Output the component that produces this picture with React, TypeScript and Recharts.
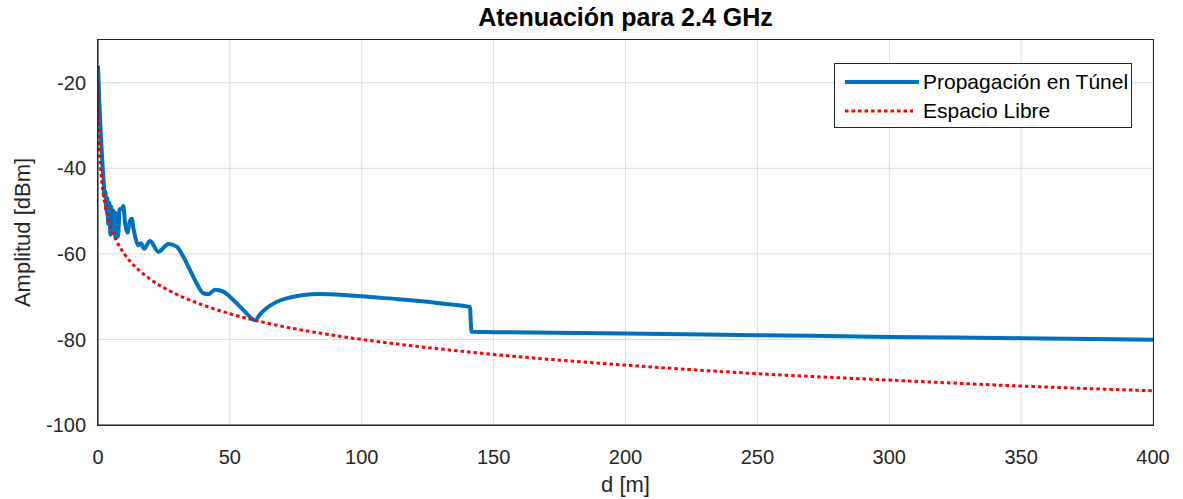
import { CartesianGrid, Line, LineChart, XAxis, YAxis } from "recharts";

// distances in m, amplitudes in dBm
const tunnelDist = [
  0, 0.3, 0.6, 1.0, 1.4, 1.8, 2.2, 2.5, 2.8, 3.2, 3.5, 3.9, 4.3, 4.7, 5.1, 5.6,
  6.0, 6.5, 7.0, 7.6, 8.2, 9.0, 9.6, 10.3, 11.2, 12.0, 12.8, 13.5, 14.3, 15.3,
  16.3, 17.5, 19.7, 22.9, 26.7, 29.8, 32.2, 34.9, 37.5, 39.9, 41.8, 44.4, 47.5,
  50, 53, 56, 59.5, 61.5, 63.5, 66, 69, 72.8, 78, 84, 90, 100, 110, 122, 132,
  141, 141.6, 150, 200, 250, 300, 350, 400,
];
const tunnelAmp = [
  -16, -21, -26, -31, -36, -40, -43.5, -46.5, -45.5, -50, -47, -53, -48, -55.5,
  -49, -55, -50, -56, -50.5, -56, -49.5, -49.5, -48.8, -53, -55, -52.5, -51.8,
  -54.2, -56.5, -58, -57.5, -58.8, -57, -59.5, -57.7, -58.3, -60.5, -63.8, -67,
  -69.2, -69.4, -68.4, -68.8, -70, -71.8, -73.7, -75.5, -74.1, -72.9, -71.8,
  -70.9, -70.2, -69.6, -69.4, -69.5, -69.9, -70.4, -71, -71.7, -72.4, -78.2,
  -78.3, -78.6, -79, -79.4, -79.7, -80.1,
];

const freeDist = [
  0.1, 0.2, 0.35, 0.5, 0.75, 1, 1.5, 2, 3, 4, 5, 7, 10, 15, 20, 30, 40, 50, 60,
  80, 100, 125, 150, 200, 250, 300, 350, 400,
];
const freeAmp = [
  -20, -26, -30.9, -34, -37.5, -40, -43.5, -46, -49.5, -52, -54, -56.9, -60,
  -63.5, -66, -69.5, -72, -74, -75.6, -78.1, -80, -81.9, -83.5, -86, -88, -89.5,
  -90.9, -92,
];

const xTicks = [0, 50, 100, 150, 200, 250, 300, 350, 400];
const yTicks = [-100, -80, -60, -40, -20];

const tunnelData = tunnelDist.map((d, i) => ({ d, amp: tunnelAmp[i] }));
const freeData = freeDist.map((d, i) => ({ d, amp: freeAmp[i] }));

const font = "'Liberation Sans', Arial, sans-serif";
const ink = "#262626";
const blue = "#0072BD";
const red = "#FF0000";

export default function App() {
  const tickStyle = { fill: ink, fontSize: 20, fontFamily: font };

  return (
    <div
      style={{
        position: "absolute",
        left: 0,
        top: 0,
        width: 1183,
        height: 499,
        background: "#fff",
      }}
    >
      <div
        style={{
          position: "absolute",
          left: 98,
          width: 1055,
          top: 3,
          textAlign: "center",
          fontFamily: font,
          fontWeight: "bold",
          fontSize: 25,
          color: "#000",
        }}
      >
        Atenuación para 2.4 GHz
      </div>
      <LineChart
        width={1183}
        height={499}
        margin={{ top: 40, right: 30, bottom: 0, left: 0 }}
      >
        <CartesianGrid
          xAxisId="b"
          yAxisId="l"
          stroke="#dcdcdc"
          strokeWidth={1}
          horizontalValues={yTicks}
          verticalValues={xTicks}
        />
        <XAxis
          xAxisId="b"
          dataKey="d"
          type="number"
          domain={[0, 400]}
          ticks={xTicks}
          allowDataOverflow
          height={74}
          tickLine={false}
          tickMargin={19}
          tick={tickStyle}
          stroke={ink}
          label={{
            content: (p: any) => (
              <text
                x={p.viewBox.x + p.viewBox.width / 2}
                y={492}
                textAnchor="middle"
                fill={ink}
                fontSize={22}
                fontFamily={font}
              >
                d [m]
              </text>
            ),
          }}
        />
        <YAxis
          yAxisId="l"
          type="number"
          domain={[-100, -10]}
          ticks={yTicks}
          allowDataOverflow
          width={98}
          tickLine={false}
          tickMargin={6}
          tick={tickStyle}
          stroke={ink}
          label={{
            content: (p: any) => {
              const cy = p.viewBox.y + p.viewBox.height / 2;
              return (
                <text
                  x={30}
                  y={cy}
                  transform={`rotate(-90, 30, ${cy})`}
                  textAnchor="middle"
                  fill={ink}
                  fontSize={22}
                  fontFamily={font}
                >
                  Amplitud [dBm]
                </text>
              );
            },
          }}
        />
        <Line
          xAxisId="b"
          yAxisId="l"
          data={tunnelData}
          dataKey="amp"
          type="monotone"
          stroke={blue}
          strokeWidth={4}
          dot={false}
          isAnimationActive={false}
        />
        <Line
          xAxisId="b"
          yAxisId="l"
          data={freeData}
          dataKey="amp"
          type="monotone"
          stroke={red}
          strokeWidth={3}
          strokeDasharray="3.5 3"
          dot={false}
          isAnimationActive={false}
        />
      </LineChart>
      {/* axes box */}
      <div
        style={{
          position: "absolute",
          left: 97,
          top: 39,
          width: 1055,
          height: 385,
          border: `1px solid ${ink}`,
          pointerEvents: "none",
        }}
      />
      <div
        style={{
          position: "absolute",
          left: 834,
          top: 63,
          width: 296,
          height: 63,
          border: "1.5px solid #262626",
          background: "#fff",
          fontFamily: font,
          fontSize: 21,
          color: "#000",
        }}
      >
        {[
          { name: "Propagación en Túnel", color: blue, dash: undefined, w: 4 },
          { name: "Espacio Libre", color: red, dash: "3.5 3", w: 3 },
        ].map((s, i) => (
          <div
            key={s.name}
            style={{
              position: "absolute",
              left: 10,
              top: 4 + i * 29,
              height: 28,
              display: "flex",
              alignItems: "center",
            }}
          >
            <svg width={74} height={10} style={{ marginRight: 4 }}>
              <line
                x1={0}
                x2={s.dash ? 68 : 74}
                y1={5}
                y2={5}
                stroke={s.color}
                strokeWidth={s.w}
                strokeDasharray={s.dash}
              />
            </svg>
            <span>{s.name}</span>
          </div>
        ))}
      </div>
    </div>
  );
}
